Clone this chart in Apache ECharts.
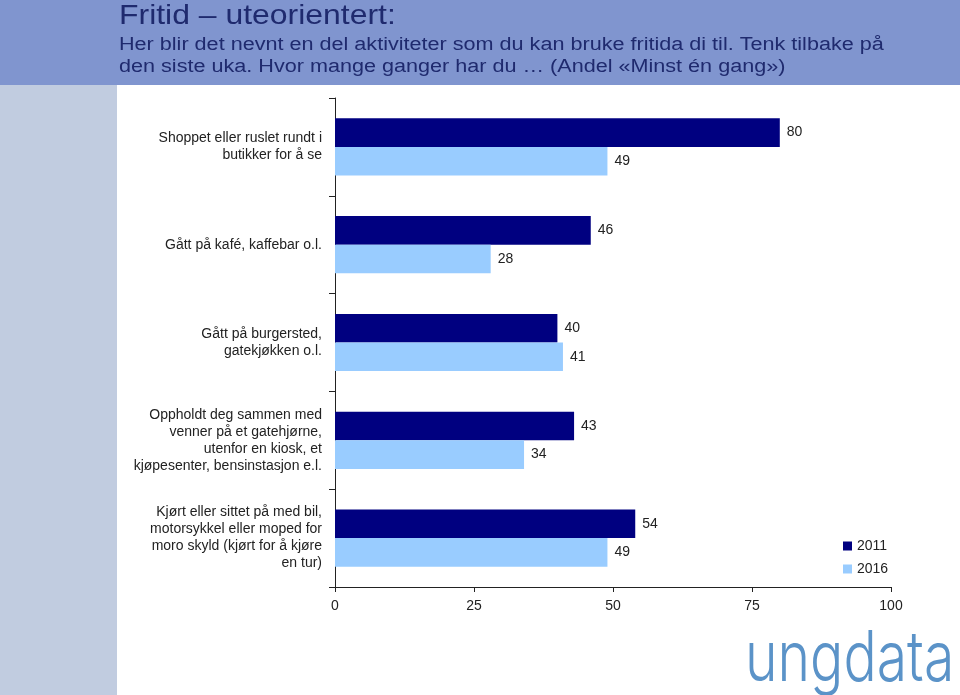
<!DOCTYPE html>
<html>
<head>
<meta charset="utf-8">
<script src="https://cdn.jsdelivr.net/npm/echarts@6/dist/echarts.min.js"></script>
<style>
html,body{margin:0;padding:0;background:#fff;}
#c{width:960px;height:695px;}
</style>
</head>
<body>
<div id="c"></div>
<script>
const categories = [
  'Shoppet eller ruslet rundt i\nbutikker for å se',
  'Gått på kafé, kaffebar o.l.',
  'Gått på burgersted,\ngatekjøkken o.l.',
  'Oppholdt deg sammen med\nvenner på et gatehjørne,\nutenfor en kiosk, et\nkjøpesenter, bensinstasjon e.l.',
  'Kjørt eller sittet på med bil,\nmotorsykkel eller moped for\nmoro skyld (kjørt for å kjøre\nen tur)'
];
const seriesNames = ['2011', '2016'];
const values2011 = [80, 46, 40, 43, 54];
const values2016 = [49, 28, 41, 34, 49];
const xTicks = [0, 25, 50, 75, 100];

const chart = echarts.init(document.getElementById('c'));
const font = 'Liberation Sans, Arial, sans-serif';
const textColor = '#1f2a6e';
chart.setOption({
  animation: false,
  backgroundColor: '#fff',
  textStyle: {fontFamily: font},
  graphic: [
    {type: 'rect', x: 0, y: 0, shape: {width: 960, height: 85}, style: {fill: '#8095cf'}, z: -10},
    {type: 'rect', x: 0, y: 85, shape: {width: 117, height: 610}, style: {fill: '#c1cce0'}, z: -10},
    {type: 'text', x: 119, y: 16.5, scaleX: 1.14,
     style: {x: 0, y: 0, text: 'Fritid – uteorientert:', font: '28px ' + font, fill: textColor, textVerticalAlign: 'middle'}},
    {type: 'text', x: 119, y: 45, scaleX: 1.2,
     style: {x: 0, y: 0, text: 'Her blir det nevnt en del aktiviteter som du kan bruke fritida di til. Tenk tilbake på', font: '18px ' + font, fill: textColor, textVerticalAlign: 'middle'}},
    {type: 'text', x: 119, y: 67, scaleX: 1.2,
     style: {x: 0, y: 0, text: 'den siste uka. Hvor mange ganger har du … (Andel «Minst én gang»)', font: '18px ' + font, fill: textColor, textVerticalAlign: 'middle'}},
    {type: 'text', x: 745, y: 695, scaleX: 0.79,
     style: {x: 0, y: 0, text: 'ungdata', font: '300 70px Inter, Lato, sans-serif', fill: '#5b93c8', textVerticalAlign: 'bottom'}}
  ],
  legend: {
    orient: 'vertical', left: 838, top: 534,
    data: seriesNames,
    icon: 'rect', itemWidth: 9, itemHeight: 9, itemGap: 9,
    textStyle: {fontSize: 14, color: '#222', fontFamily: font}
  },
  grid: {left: 335, right: 69, top: 98, bottom: 108, containLabel: false},
  xAxis: {
    type: 'value', min: 0, max: 100, interval: 25,
    axisLine: {show: true, lineStyle: {color: '#222'}},
    axisTick: {show: true, length: 5, lineStyle: {color: '#222'}},
    splitLine: {show: false},
    axisLabel: {fontSize: 14, color: '#222', margin: 12, fontFamily: font,
      formatter: v => xTicks.includes(v) ? String(v) : ''}
  },
  yAxis: {
    type: 'category', inverse: true, data: categories,
    axisLine: {show: true, lineStyle: {color: '#222'}},
    axisTick: {show: true, length: 6, lineStyle: {color: '#222'}},
    axisLabel: {fontSize: 14, color: '#222', margin: 13, lineHeight: 17, align: 'right', fontFamily: font}
  },
  series: [
    {name: '2011', type: 'bar', data: values2011, barGap: '0%', barCategoryGap: '41.5%',
     itemStyle: {color: '#000080'},
     label: {show: true, position: 'right', distance: 7, fontSize: 14, color: '#222', fontFamily: font}},
    {name: '2016', type: 'bar', data: values2016, barGap: '0%', barCategoryGap: '41.5%',
     itemStyle: {color: '#99ccff'},
     label: {show: true, position: 'right', distance: 7, fontSize: 14, color: '#222', fontFamily: font}}
  ]
});
</script>
</body>
</html>
